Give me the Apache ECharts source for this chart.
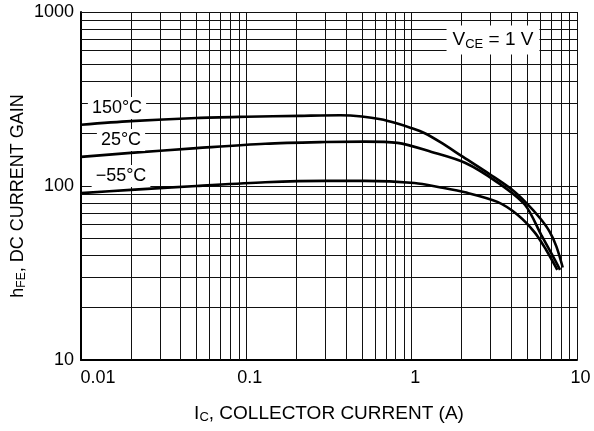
<!DOCTYPE html>
<html>
<head>
<meta charset="utf-8">
<script src="https://cdn.jsdelivr.net/npm/echarts@6/dist/echarts.min.js"></script>
<style>
html,body{margin:0;padding:0;background:#fff;}
#c{width:594px;height:431px;}
</style>
</head>
<body>
<div id="c"></div>
<script>
// Collector current (A) and DC current gain for each junction temperature
const ic150  = [0.01, 0.02, 0.05, 0.1, 0.21, 0.37, 0.5, 0.65, 0.8, 1, 1.2, 1.5, 2, 3, 4, 5, 6, 6.8, 7.5, 8.2];
const hfe150 = [225, 236, 246, 250, 253, 255, 251, 242, 230, 215, 201, 178, 149, 116, 96, 79, 65, 55, 45, 34];
const ic25   = [0.01, 0.02, 0.05, 0.13, 0.3, 0.52, 0.82, 1.32, 2.1, 3.3, 4.84, 6.1, 7, 7.9];
const hfe25  = [147, 155, 165, 175, 179, 180, 177, 157, 136, 105, 78, 52, 41, 33];
const icM55  = [0.01, 0.02, 0.05, 0.13, 0.3, 0.52, 1.04, 1.5, 2.1, 3.3, 4.4, 5.56, 6.5, 7.6];
const hfeM55 = [91, 95, 100, 105, 107, 107, 104, 98, 92, 81, 68, 54, 43, 33];
const seriesNames = ['150°C', '25°C', '−55°C'];
const xTickLabels = ['0.01', '0.1', '1', '10'];
const yTickLabels = ['10', '100', '1000'];
const xMinorGrid = [0.02,0.03,0.04,0.05,0.06,0.07,0.08,0.09,0.2,0.3,0.4,0.5,0.6,0.7,0.8,0.9,2,3,4,5,6,7,8,9];
const yMinorGrid = [20,30,40,50,60,70,80,90,200,300,400,500,600,700,800,900];

const font = '"Liberation Sans", Arial, Helvetica, sans-serif';
const zip = (a, b) => a.map((v, i) => [v, b[i]]);

const chart = echarts.init(document.getElementById('c'), null, {renderer: 'canvas'});
const gridData = []
  .concat(xMinorGrid.map(v => ({xAxis: v})))
  .concat(yMinorGrid.map(v => ({yAxis: v})))
  .concat([{xAxis: 10}, {yAxis: 1000}]);

const curve = (name, xs, ys) => ({
  name: name, type: 'line', data: zip(xs, ys), smooth: 0.3, showSymbol: false,
  symbol: 'none', z: 4, lineStyle: {color: '#000', width: 2.6}, silent: true
});

chart.setOption({
  animation: false,
  backgroundColor: '#fff',
  grid: {left: 81, right: 17, top: 12, bottom: 71},
  xAxis: {
    type: 'log', logBase: 10, min: 0.01, max: 10,
    name: 'I{sub|C}, COLLECTOR CURRENT (A)', nameLocation: 'middle', nameGap: 43,
    nameTextStyle: {color: '#000', fontSize: 19, fontFamily: font,
      rich: {sub: {fontSize: 13, verticalAlign: 'bottom', padding: [8, 0, 0, 0], fontFamily: font, color: '#000'}}},
    axisLine: {show: true, onZero: false, lineStyle: {color: '#000', width: 2}},
    axisTick: {show: false},
    axisLabel: {color: '#000', fontSize: 18, fontFamily: font, margin: 9,
      formatter: (v, i) => i === 0 ? '{first|' + xTickLabels[i] + '}' : '{rest|' + xTickLabels[i] + '}',
      rich: {
        first: {fontSize: 18, fontFamily: font, color: '#000', padding: [0, 0, 0, 34]},
        rest: {fontSize: 18, fontFamily: font, color: '#000', padding: [0, 0, 0, 7]}
      }},
    splitLine: {show: true, lineStyle: {color: '#111', width: 1}},
    minorTick: {show: false}, minorSplitLine: {show: false}
  },
  yAxis: {
    type: 'log', logBase: 10, min: 10, max: 1000,
    axisLine: {show: true, onZero: false, lineStyle: {color: '#000', width: 2}},
    axisTick: {show: false},
    axisLabel: {color: '#000', fontSize: 18, fontFamily: font, margin: 7,
      formatter: (v, i) => yTickLabels[i]},
    splitLine: {show: true, lineStyle: {color: '#111', width: 1}}
  },
  series: [
    {
      type: 'line', data: [], silent: true, z: 1,
      markLine: {
        silent: true, symbol: ['none', 'none'], animation: false, z: 1,
        label: {show: false},
        lineStyle: {color: '#111', width: 1, type: 'solid'},
        emphasis: {disabled: true},
        data: gridData
      }
    },
    curve(seriesNames[0], ic150, hfe150),
    curve(seriesNames[1], ic25, hfe25),
    curve(seriesNames[2], icM55, hfeM55)
  ],
  graphic: [
    {type: 'text', z: 10, x: 18, y: 196, rotation: Math.PI / 2,
     style: {text: 'h{sub|FE}, DC CURRENT GAIN', fill: '#000', font: '18px ' + font,
       align: 'center', verticalAlign: 'middle',
       rich: {sub: {font: '12px ' + font, padding: [8, 0, 0, 0], fill: '#000'}}}},
    {type: 'text', z: 10, x: 493, y: 40,
     style: {text: 'V{sub|CE} = 1 V', fill: '#000', font: '19px ' + font,
       align: 'center', verticalAlign: 'middle', backgroundColor: '#fff', padding: [4, 6],
       rich: {sub: {font: '13px ' + font, padding: [8, 0, 0, 0], fill: '#000'}}}},
    {type: 'text', z: 10, x: 117, y: 108,
     style: {text: seriesNames[0], fill: '#000', font: '18px ' + font,
       align: 'center', verticalAlign: 'middle', backgroundColor: '#fff', padding: [2, 4]}},
    {type: 'text', z: 10, x: 121, y: 140,
     style: {text: seriesNames[1], fill: '#000', font: '18px ' + font,
       align: 'center', verticalAlign: 'middle', backgroundColor: '#fff', padding: [2, 4]}},
    {type: 'text', z: 10, x: 121, y: 176,
     style: {text: seriesNames[2], fill: '#000', font: '18px ' + font,
       align: 'center', verticalAlign: 'middle', backgroundColor: '#fff', padding: [2, 4]}}
  ]
});
</script>
</body>
</html>
